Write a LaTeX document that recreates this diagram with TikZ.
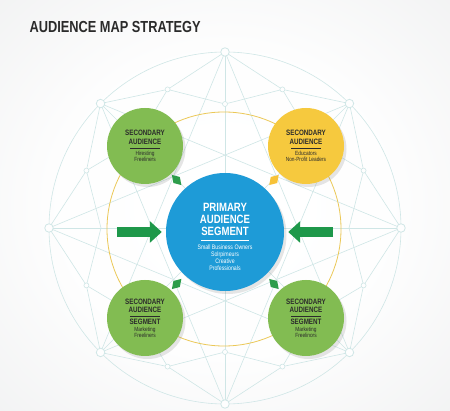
\documentclass[tikz,border=0pt]{standalone}
\usepackage{fontspec}
\newfontfamily\cond{Liberation Sans}[FakeStretch=0.8]
\usetikzlibrary{arrows.meta,positioning,shapes.geometric,shadows}
\definecolor{bgcol}{HTML}{E9EAEB}
\definecolor{webcol}{HTML}{CFE6E6}
\definecolor{ringcol}{HTML}{EBC857}
\definecolor{primblue}{HTML}{1E9BD7}
\definecolor{secgreen}{HTML}{82BC52}
\definecolor{secyellow}{HTML}{F6C93E}
\definecolor{arrowgreen}{HTML}{1E984A}
\definecolor{inkdark}{HTML}{2B2B2B}
\pgfdeclareradialshading{bgglow}{\pgfpoint{0bp}{0bp}}{color(0bp)=(white); color(18bp)=(white!96!bgcol); color(50bp)=(bgcol)}
\newcommand\sm[1]{{\mdseries\fontsize{6}{7}\selectfont #1}}
\newcommand\smp[1]{{\mdseries\fontsize{6.5}{7}\selectfont #1}}
\tikzset{
    web/.style={draw=webcol,line width=0.6pt},
    knot/.style={circle,draw=webcol,fill=white!97!bgcol,line width=0.6pt,inner sep=0pt,minimum size=5pt},
    bigknot/.style={knot,minimum size=8.5pt,line width=0.8pt},
    ring/.style={draw=ringcol,line width=0.8pt},
    secondary/.style={circle,minimum size=76pt,inner sep=0pt,align=center,text=inkdark,
        font=\cond\bfseries\fontsize{7.8}{9}\selectfont,
        drop shadow={shadow xshift=2.5pt,shadow yshift=-3pt,opacity=0.2}},
    primary/.style={circle,fill=primblue,minimum size=118pt,inner sep=0pt,
        drop shadow={shadow xshift=2.5pt,shadow yshift=-3pt,opacity=0.2}},
    primlabel/.style={align=center,text=white,font=\cond\bfseries\fontsize{12}{12}\selectfont},
    push/.style={draw=arrowgreen,line width=10pt,-{Triangle[length=12pt,width=21pt]},shorten >=4pt},
    gem/.style={diamond,fill=arrowgreen!85!secgreen,inner sep=0pt,minimum width=14pt,minimum height=9pt,sloped},
    title/.style={font=\cond\bfseries\fontsize{16}{18}\selectfont,text=inkdark,anchor=west}
}

\begin{document}
\begin{tikzpicture}[x=1pt,y=-1pt]

    \useasboundingbox (0,0) rectangle (450,411);
    \shade[shading=bgglow] (0,0) rectangle (450,411);

    \coordinate (hub) at (225,228);
    \foreach \k in {0,...,7}{
        \path (hub) ++(\k*45:176) coordinate (o\k);
        \path (hub) ++(\k*45+22.5:150) coordinate (m\k);
        \path (hub) ++(\k*45:124) coordinate (i\k);
    }
    \draw[web] (hub) circle[radius=176];
    \foreach \k in {0,...,7}{
        \pgfmathtruncatemacro\nx{mod(\k+1,8)}
        \pgfmathtruncatemacro\fr{mod(\k+3,8)}
        \draw[web] (o\k) -- (m\k) -- (o\nx);
        \draw[web] (m\k) -- (i\k) (m\k) -- (i\nx);
        \draw[web] (o\k) -- (o\fr);
        \draw[web] (o\k) -- (hub);
    }
    \foreach \k in {0,...,7}{
        \node[bigknot] (ko\k) at (o\k) {};
        \node[knot]    (km\k) at (m\k) {};
    }
    \node[knot] (ki2) at (i2) {};
    \node[knot] (ki6) at (i6) {};

    \draw[ring] (224,229) circle[radius=117];

    \node[title] (title) at (26,27) {AUDIENCE MAP STRATEGY};

    \node[primary] (primary) at (225,232) {};
    \node[primlabel] (primlabel) at ([yshift=-5pt]primary.center)
        {PRIMARY\\ AUDIENCE\\ SEGMENT\\[-7pt] \rule{48pt}{0.6pt}\\[-3pt]
         \smp{Small Business Owners}\\[-5pt] \smp{Solrpimeurs}\\[-5pt]
         \smp{Creative}\\[-5pt] \smp{Professionals}};

    \node[secondary,fill=secgreen] (stl) at (145,146)
        {SECONDARY\\ AUDIENCE\\[-5.5pt] \rule{30pt}{0.5pt}\\[-2pt]
         \sm{Hiresting}\\[-3pt] \sm{Freeliners}};
    \node[secondary,fill=secyellow] (str) at (306,146)
        {SECONDARY\\ AUDIENCE\\[-5.5pt] \rule{30pt}{0.5pt}\\[-2pt]
         \sm{Educators}\\[-3pt] \sm{Non-Profit Leaders}};
    \node[secondary,fill=secgreen] (sbl) at (145,318)
        {SECONDARY\\[-0.5pt] AUDIENCE\\[-5.5pt] \rule{30pt}{0.5pt}\\[-1pt]
         SEGMENT\\[-2pt] \sm{Marketing}\\[-3pt] \sm{Freeliners}};
    \node[secondary,fill=secgreen] (sbr) at (306,318)
        {SECONDARY\\[-0.5pt] AUDIENCE\\[-5.5pt] \rule{30pt}{0.5pt}\\[-1pt]
         SEGMENT\\[-2pt] \sm{Marketing}\\[-3pt] \sm{Freelinors}};

    \path (stl) -- (primary) node[gem,pos=0.41] (gtl) {};
    \path (str) -- (primary) node[gem,pos=0.41,fill=secyellow!90!orange] (gtr) {};
    \path (sbl) -- (primary) node[gem,pos=0.41] (gbl) {};
    \path (sbr) -- (primary) node[gem,pos=0.41] (gbr) {};

    \node[coordinate,left=49pt of primary.west]  (lsrc) {};
    \node[coordinate,right=49pt of primary.east] (rsrc) {};
    \draw[push] (lsrc) -- (primary.west);
    \draw[push] (rsrc) -- (primary.east);

\end{tikzpicture}
\end{document}
